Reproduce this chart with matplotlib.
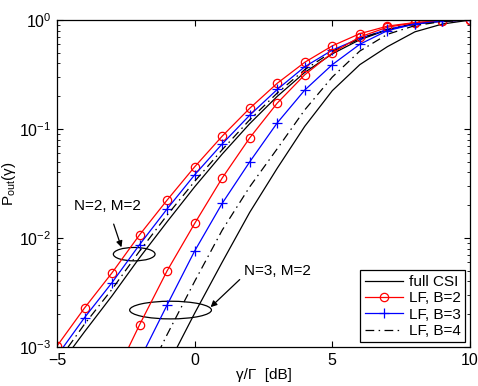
import numpy as np
import matplotlib.pyplot as plt
from matplotlib.patches import Ellipse

plt.rcParams['font.family'] = ['Liberation Sans', 'DejaVu Sans']
plt.rcParams['mathtext.default'] = 'regular'

# SNR grid (dB)
snr_db = [-5, -4, -3, -2, -1, 0, 1, 2, 3, 4, 5, 6, 7, 8, 9, 10]

# N=2, M=2
full_n2 = [0.00063, 0.00138, 0.00295, 0.0066, 0.0141, 0.0295, 0.0589, 0.112,
           0.1995, 0.331, 0.49, 0.66, 0.813, 0.923, 0.977, 1.0]
lf2_n2 = [0.00102, 0.00228, 0.0048, 0.0107, 0.0223, 0.045, 0.086, 0.155,
          0.263, 0.41, 0.58, 0.75, 0.88, 0.95, 0.985, 1.0]
lf3_n2 = [0.00083, 0.00186, 0.0039, 0.0087, 0.0185, 0.038, 0.073, 0.134,
          0.231, 0.373, 0.53, 0.68, 0.82, 0.93, 0.98, 1.0]
lf4_n2 = [0.00072, 0.00162, 0.00339, 0.00759, 0.0162, 0.0331, 0.0646, 0.1216,
          0.214, 0.351, 0.513, 0.676, 0.817, 0.929, 0.98, 1.0]

# N=3, M=2
full_n3 = [3.5e-6, 1.4e-5, 5.5e-5, 0.0002, 0.00066, 0.00204, 0.006, 0.0172,
           0.0437, 0.106, 0.225, 0.39, 0.57, 0.78, 0.92, 1.0]
lf2_n3 = [4e-5, 0.00015, 0.00048, 0.0016, 0.005, 0.0136, 0.0355, 0.083,
          0.173, 0.315, 0.50, 0.70, 0.86, 0.945, 0.985, 1.0]
lf3_n3 = [1e-5, 4e-5, 0.00018, 0.00076, 0.00243, 0.0076, 0.0208, 0.050,
          0.114, 0.228, 0.39, 0.60, 0.80, 0.92, 0.98, 1.0]
lf4_n3 = [8e-6, 3e-5, 0.00011, 0.0004, 0.0013, 0.004, 0.0118, 0.0295,
          0.066, 0.15, 0.30, 0.52, 0.74, 0.89, 0.97, 1.0]

fig = plt.figure(figsize=(4.78, 3.86), dpi=100)
ax = fig.add_axes([0.1192, 0.101, 0.864, 0.847])

lw = 0.9
dashdot = (0, (7, 3.5, 1.2, 3.5))
ax.semilogy(snr_db, full_n2, color='black', lw=lw, label='full CSI')
ax.semilogy(snr_db, lf2_n2, color='red', lw=lw, marker='o', ms=6,
            mfc='none', mew=lw, label='LF, B=2')
ax.semilogy(snr_db, lf3_n2, color='blue', lw=lw, marker='+', ms=7,
            mew=lw, label='LF, B=3')
ax.semilogy(snr_db, lf4_n2, color='black', lw=lw, ls=dashdot, label='LF, B=4')

ax.semilogy(snr_db, full_n3, color='black', lw=lw)
ax.semilogy(snr_db, lf2_n3, color='red', lw=lw, marker='o', ms=6,
            mfc='none', mew=lw)
ax.semilogy(snr_db, lf3_n3, color='blue', lw=lw, marker='+', ms=7, mew=lw)
ax.semilogy(snr_db, lf4_n3, color='black', lw=lw, ls=dashdot)

ax.set_xlim(-5, 10)
ax.set_ylim(1e-3, 1)
ax.set_xticks([-5, 0, 5, 10])
ax.tick_params(which='both', direction='in', top=True, right=True,
               labelsize=11.5)
ax.tick_params(which='major', length=4, pad=4)
ax.tick_params(which='minor', length=2)
for s in ax.spines.values():
    s.set_linewidth(0.9)

ax.set_xlabel('γ/Γ  [dB]', fontsize=11, labelpad=0)
ax.set_ylabel('P$_{out}$(γ)', fontsize=11, labelpad=1)

# annotations
ax.add_patch(Ellipse((0.187, 0.284), 0.101, 0.041, transform=ax.transAxes,
                     fill=False, ec='black', lw=0.9))
ax.add_patch(Ellipse((0.275, 0.113), 0.198, 0.054, transform=ax.transAxes,
                     fill=False, ec='black', lw=0.9))
ax.annotate('N=2, M=2', xy=(0.156, 0.305), xycoords='axes fraction',
            xytext=(0.123, 0.43), textcoords='axes fraction', fontsize=11,
            ha='center', va='center',
            arrowprops=dict(arrowstyle='-|>', color='black', lw=0.9,
                            shrinkA=6, shrinkB=0, mutation_scale=9))
ax.annotate('N=3, M=2', xy=(0.372, 0.122), xycoords='axes fraction',
            xytext=(0.535, 0.233), textcoords='axes fraction', fontsize=11,
            ha='center', va='center',
            arrowprops=dict(arrowstyle='-|>', color='black', lw=0.9,
                            shrinkA=2, shrinkB=0, mutation_scale=9,
                            relpos=(0.0, 0.2)))

leg = ax.legend(loc='lower right', fontsize=11, numpoints=1,
                handlelength=2.5, borderaxespad=0.3, fancybox=False,
                framealpha=1, edgecolor='black', borderpad=0.3,
                labelspacing=0.15, handletextpad=0.4)
leg.get_frame().set_linewidth(0.9)

fig.savefig('out.png', dpi=100)
